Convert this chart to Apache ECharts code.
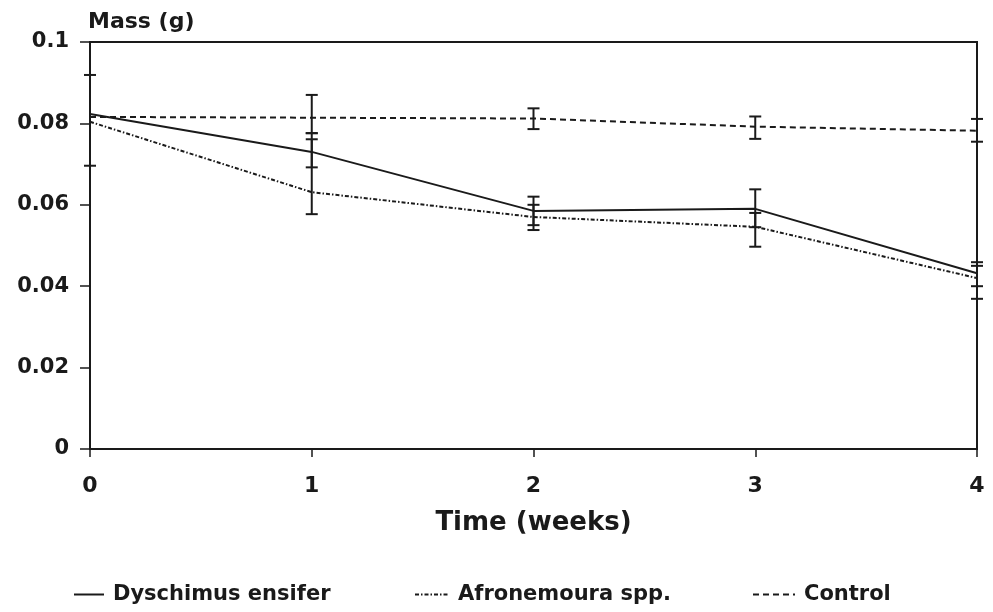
<!DOCTYPE html>
<html>
<head>
<meta charset="utf-8">
<script src="https://cdn.jsdelivr.net/npm/echarts@6/dist/echarts.min.js"></script>
<style>html,body{margin:0;padding:0;background:#fff}#c{width:993px;height:612px}</style>
</head>
<body>
<div id="c"></div>
<script>
var weeks = [0, 1, 2, 3, 4];
var yTickLabels = ['0', '0.02', '0.04', '0.06', '0.08', '0.1'];

var dysMean = [0.0823, 0.0730, 0.0585, 0.0590, 0.0432];
var dysLow  = [0.0696, 0.0692, 0.0550, 0.0545, 0.0400];
var dysHigh = [0.0919, 0.0776, 0.0620, 0.0638, 0.0459];

var afrMean = [0.0804, 0.0631, 0.0570, 0.0546, 0.0420];
var afrLow  = [0.0804, 0.0577, 0.0538, 0.0497, 0.0369];
var afrHigh = [0.0804, 0.0761, 0.0600, 0.0580, 0.0450];

var ctlMean = [0.0816, 0.0814, 0.0812, 0.0792, 0.0782];
var ctlLow  = [0.0816, 0.0776, 0.0786, 0.0762, 0.0755];
var ctlHigh = [0.0816, 0.0870, 0.0837, 0.0817, 0.0811];

function pairs(xs, ys) { return xs.map(function (x, i) { return [x, ys[i]]; }); }
function errData(xs, lo, hi) { return xs.map(function (x, i) { return [x, lo[i], hi[i]]; }); }

var INK = '#1a1a1a';
var FONT = 'DejaVu Sans';

function errSeries(name, data) {
  return {
    type: 'custom', name: name + ' err', silent: true, z: 5,
    renderItem: function (params, api) {
      var x = api.value(0), lo = api.value(1), hi = api.value(2);
      if (lo === hi) return null;
      var p1 = api.coord([x, lo]), p2 = api.coord([x, hi]);
      var w = 6;
      var st = { stroke: INK, lineWidth: 2 };
      return { type: 'group', children: [
        { type: 'line', shape: { x1: p1[0], y1: p1[1], x2: p2[0], y2: p2[1] }, style: st },
        { type: 'line', shape: { x1: p1[0] - w, y1: p1[1], x2: p1[0] + w, y2: p1[1] }, style: st },
        { type: 'line', shape: { x1: p2[0] - w, y1: p2[1], x2: p2[0] + w, y2: p2[1] }, style: st }
      ]};
    },
    encode: { x: 0, y: [1, 2] },
    data: data
  };
}

var chart = echarts.init(document.getElementById('c'), null, { renderer: 'canvas' });
var legendText = { fontFamily: FONT, fontWeight: 'bold', fontSize: 21, color: INK, padding: [0, 0, 0, 4] };
var legendBase = { top: 579, itemHeight: 14, itemGap: 0, textStyle: legendText, itemStyle: { opacity: 0 } };
chart.setOption({
  animation: false,
  backgroundColor: '#fff',
  grid: { left: 90, right: 16, top: 42, bottom: 163, show: true, borderColor: INK, borderWidth: 2, backgroundColor: 'transparent' },
  legend: [
    Object.assign({ data: ['Dyschimus ensifer'], left: 68, itemWidth: 30 }, legendBase),
    Object.assign({ data: ['Afronemoura spp.'], left: 409, itemWidth: 34 }, legendBase),
    Object.assign({ data: ['Control'], left: 747, itemWidth: 42 }, legendBase)
  ],
  xAxis: {
    type: 'value', min: 0, max: 4, interval: 1,
    name: 'Time (weeks)', nameLocation: 'middle', nameGap: 74,
    nameTextStyle: { fontFamily: FONT, fontWeight: 'bold', fontSize: 26, color: INK, verticalAlign: 'middle' },
    axisLine: { lineStyle: { color: INK, width: 2 } },
    axisTick: { show: true, length: 8, lineStyle: { color: INK, width: 1.5 } },
    axisLabel: { margin: 26, fontFamily: FONT, fontWeight: 'bold', fontSize: 22, color: INK,
      formatter: function (v) { return String(weeks[Math.round(v)]); } },
    splitLine: { show: false }
  },
  yAxis: {
    type: 'value', min: 0, max: 0.1, interval: 0.02,
    name: 'Mass (g)', nameLocation: 'end', nameGap: 20,
    nameTextStyle: { fontFamily: FONT, fontWeight: 'bold', fontSize: 22, color: INK, align: 'left', verticalAlign: 'middle', padding: [0, 0, 0, -2] },
    axisLine: { show: true, lineStyle: { color: INK, width: 2 } },
    axisTick: { show: true, length: 10, lineStyle: { color: INK, width: 1.5 } },
    axisLabel: { margin: 21, fontFamily: FONT, fontWeight: 'bold', fontSize: 21, color: INK,
      formatter: function (v) { return yTickLabels[Math.round(v / 0.02)]; } },
    splitLine: { show: false }
  },
  series: [
    { type: 'line', name: 'Dyschimus ensifer', data: pairs(weeks, dysMean), symbol: 'none', z: 3,
      lineStyle: { color: INK, width: 2, type: 'solid' }, itemStyle: { color: INK } },
    { type: 'line', name: 'Afronemoura spp.', data: pairs(weeks, afrMean), symbol: 'none', z: 3,
      lineStyle: { color: INK, width: 2, type: [4, 2, 1.5, 2] }, itemStyle: { color: INK } },
    { type: 'line', name: 'Control', data: pairs(weeks, ctlMean), symbol: 'none', z: 3,
      lineStyle: { color: INK, width: 2, type: [6, 4] }, itemStyle: { color: INK } },
    errSeries('Dyschimus ensifer', errData(weeks, dysLow, dysHigh)),
    errSeries('Afronemoura spp.', errData(weeks, afrLow, afrHigh)),
    errSeries('Control', errData(weeks, ctlLow, ctlHigh))
  ]
});
</script>
</body>
</html>
